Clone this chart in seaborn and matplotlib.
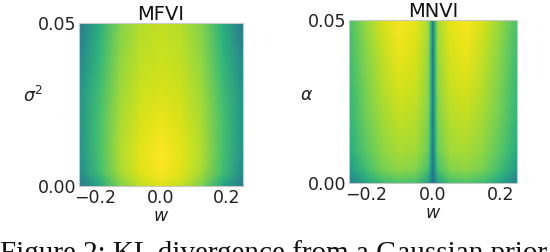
import numpy as np
import matplotlib
matplotlib.use("Agg")
import matplotlib.pyplot as plt
import seaborn as sns

# ---------------- data (colour level, 0..1 on viridis) -------------
# MFVI: rows = sigma^2 values, cols = w values (left half incl. centre, mirrored)
mfvi_w_half = [-0.25, -0.1875, -0.125, -0.0625, 0.0]
mfvi_sigma2 = [0.0, 0.004, 0.01, 0.02, 0.03, 0.04, 0.05]
mfvi_levels_half = [
    [0.40, 0.60, 0.80, 0.91, 0.95],   # 0.000
    [0.48, 0.69, 0.86, 0.95, 0.99],   # 0.004
    [0.51, 0.71, 0.88, 0.96, 1.00],   # 0.010
    [0.52, 0.71, 0.87, 0.94, 0.97],   # 0.020
    [0.50, 0.69, 0.85, 0.92, 0.94],   # 0.030
    [0.46, 0.66, 0.83, 0.90, 0.92],   # 0.040
    [0.40, 0.63, 0.81, 0.89, 0.91],   # 0.050
]

# MNVI: rows = alpha values, cols = w values (left half incl. centre, mirrored)
mnvi_w_half = [-0.25, -0.2, -0.15, -0.1, -0.05, -0.014, -0.006, 0.0]
mnvi_alpha = [0.0, 0.004, 0.01, 0.02, 0.03, 0.04, 0.05]
mnvi_levels_half = [
    [0.42, 0.58, 0.68, 0.72, 0.70, 0.56, 0.44, 0.36],   # 0.000
    [0.54, 0.69, 0.79, 0.83, 0.81, 0.70, 0.54, 0.38],   # 0.004
    [0.62, 0.74, 0.83, 0.87, 0.86, 0.77, 0.60, 0.39],   # 0.010
    [0.65, 0.78, 0.86, 0.91, 0.89, 0.81, 0.63, 0.40],   # 0.020
    [0.67, 0.80, 0.89, 0.94, 0.92, 0.83, 0.65, 0.40],   # 0.030
    [0.69, 0.82, 0.91, 0.97, 0.94, 0.85, 0.66, 0.40],   # 0.040
    [0.71, 0.84, 0.94, 0.99, 0.96, 0.87, 0.67, 0.40],   # 0.050
]

titles = ["MFVI", "MNVI"]
ylabels = [r"$\sigma^2$", r"$\alpha$"]
xlabel = r"$w$"
xticks = [-0.2, 0.0, 0.2]
xticklabels = ["\u22120.2", "0.0", "0.2"]
yticks = [0.0, 0.05]
yticklabels = ["0.00", "0.05"]
caption = "Figure 2: KL divergence from a Gaussian prior"


def mirror(w_half, levels_half):
    w = list(w_half) + [-v for v in reversed(w_half[:-1])]
    z = [list(r) + list(reversed(r[:-1])) for r in levels_half]
    return np.array(w), np.array(z)


# ---------------- figure ----------------
sns.set_theme(style="white")
plt.rcParams["font.family"] = ["DejaVu Sans"]
cmap = sns.color_palette("viridis", as_cmap=True)

fig = plt.figure(figsize=(5.5, 2.52), dpi=100)
ax1 = fig.add_axes([79 / 550, 1 - 186 / 252, 164 / 550, 163 / 252])
ax2 = fig.add_axes([349 / 550, 1 - 183 / 252, 168 / 550, 163 / 252])

panels = [
    (ax1, mfvi_w_half, mfvi_sigma2, mfvi_levels_half, (-0.28, 0.55)),
    (ax2, mnvi_w_half, mnvi_alpha, mnvi_levels_half, (-0.25, 0.54)),
]

for i, (ax, wh, ys, lv, lc) in enumerate(panels):
    w, z = mirror(wh, lv)
    W, Y = np.meshgrid(w, np.array(ys))
    ax.pcolormesh(W, Y, z, shading="gouraud", cmap=cmap, vmin=0, vmax=1,
                  rasterized=True)
    ax.set_xlim(-0.25, 0.25)
    ax.set_ylim(0.0, 0.05)
    ax.set_xticks(xticks)
    ax.set_xticklabels(xticklabels, fontsize=12.5)
    ax.set_yticks(yticks)
    ax.set_yticklabels(yticklabels, fontsize=12.5)
    ax.tick_params(length=0, pad=2, colors="#222222")
    ax.set_title(titles[i], fontsize=14, pad=2.5, color="#111111")
    ax.set_xlabel(xlabel, fontsize=12.5, labelpad=0, color="#222222")
    ax.set_ylabel(ylabels[i], fontsize=12.5, rotation=0, color="#222222",
                  va="center", ha="center")
    ax.yaxis.set_label_coords(*lc)
    for s in ax.spines.values():
        s.set_color("#c8c8c8")
        s.set_linewidth(0.8)

fig.text(0.0, 1 - 261 / 252, caption, family="Liberation Serif",
         fontsize=21, va="baseline", ha="left", color="#111111")

fig.savefig("out.png", dpi=100)
